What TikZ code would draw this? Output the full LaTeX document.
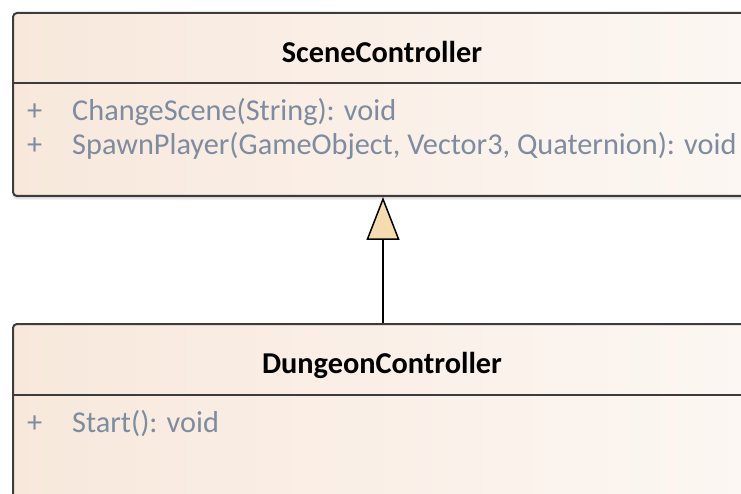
\documentclass[tikz,border=0pt]{standalone}
\usepackage{fontspec}
\setmainfont{Carlito}
\usetikzlibrary{arrows.meta}
\definecolor{boxline}{RGB}{60,60,60}
\definecolor{fillL}{RGB}{248,232,220}
\definecolor{fillR}{RGB}{252,247,243}
\definecolor{membertext}{RGB}{126,140,160}
\definecolor{arrowfill}{RGB}{245,220,176}
\begin{document}
\begin{tikzpicture}[x=1pt,y=-1pt,
  classbox/.style={draw=boxline, line width=2pt, rounded corners=4pt,
    left color=fillL, right color=fillR, anchor=north west, inner sep=0pt,
    minimum width=740pt},
  sep/.style={draw=boxline, line width=2pt},
  titletext/.style={font=\fontsize{30.3}{36}\selectfont\bfseries, anchor=base, text=black, inner sep=0pt},
  member/.style={font=\fontsize{30.3}{36}\selectfont, anchor=base west, text=membertext, inner sep=0pt},
  shadowrect/.style={fill=black, opacity=0.05, rounded corners=4pt},
  generalization/.style={draw=black, line width=1.5pt,
    -{Triangle[width=33pt,length=43pt,fill=arrowfill]}}
]
\useasboundingbox (0,0) rectangle (741,494);
\clip (0,0) rectangle (741,494);
\fill[white] (0,0) rectangle (741,494);
% shadows
\foreach \d in {1,2,3,4,5}{
  \fill[shadowrect] (13,14+\d) rectangle (760,195+\d);
  \fill[shadowrect] (13,325+\d) rectangle (760,530);
}
% SceneController
\node[classbox, minimum height=183pt] (sc) at (12,12) {};
\draw[sep] (12,83) -- (752,83);
\node[titletext] (sct) at (382,63) {SceneController};
\node[member] (scp1) at (27,121) {+};
\node[member] (scm1) at (72,121) {ChangeScene(String): void};
\node[member] (scp2) at (27,155) {+};
\node[member] (scm2) at (72,155) {SpawnPlayer(GameObject, Vector3, Quaternion): void};
% DungeonController
\node[classbox, minimum height=200pt] (dc) at (12,323) {};
\draw[sep] (12,395) -- (752,395);
\node[titletext] (dct) at (382,373) {DungeonController};
\node[member] (dcp1) at (27,432) {+};
\node[member] (dcm1) at (72,432) {Start(): void};
% generalization
\draw[generalization] (dc.north) -- (sc.south);
\end{tikzpicture}
\end{document}
